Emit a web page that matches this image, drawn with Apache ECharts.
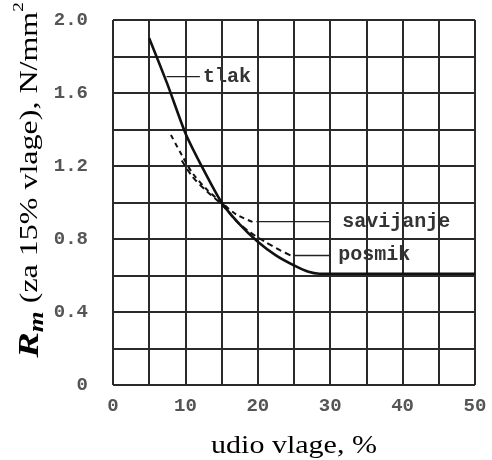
<!DOCTYPE html>
<html><head><meta charset="utf-8">
<script src="https://cdn.jsdelivr.net/npm/echarts@6/dist/echarts.min.js"></script>
<style>html,body{margin:0;padding:0;background:#fff}#c{width:492px;height:460px}</style>
</head><body><div id="c"></div>
<script>
// tick labels
const xLabels = ['0', '10', '20', '30', '40', '50'];
const yLabels = ['0', '0.4', '0.8', '1.2', '1.6', '2.0'];
// curves (x = udio vlage %, y = Rm)
const tlakX = [5, 7.5, 10, 12.5, 15, 17.5, 20, 22.5, 25, 27, 28.5, 35, 50];
const tlakY = [1.9, 1.65, 1.38, 1.18, 1.0, 0.88, 0.785, 0.71, 0.655, 0.62, 0.61, 0.61, 0.61];
const savijanjeX = [8, 9.5, 11, 13, 15, 17, 19.5];
const savijanjeY = [1.37, 1.26, 1.16, 1.07, 1.0, 0.935, 0.89];
const posmikX = [9.5, 11, 13, 15, 17, 19, 21, 23, 24.8];
const posmikY = [1.23, 1.14, 1.06, 0.99, 0.9, 0.835, 0.785, 0.74, 0.705];
// leader lines for the labels
const leadTlakX = [7.4, 12]; const leadTlakY = [1.69, 1.69];
const leadSavX = [19.8, 30]; const leadSavY = [0.895, 0.895];
const leadPosX = [24.9, 30]; const leadPosY = [0.71, 0.71];

const zip = (xs, ys) => xs.map((x, i) => [x, ys[i]]);
const chart = echarts.init(document.getElementById('c'));
const labelFont = { color: '#555', fontFamily: 'Liberation Mono', fontWeight: 'bold', fontSize: 19 };
const gridLine = { show: true, lineStyle: { color: '#2a2a2a', width: 2 } };
const leader = (name, xs, ys, dist) => ({
  type: 'line', name: name, data: zip(xs, ys), symbol: 'none', silent: true,
  lineStyle: { color: '#222', width: 1.4 },
  endLabel: { show: true, formatter: name, distance: dist, color: '#333',
    fontFamily: 'Liberation Mono', fontWeight: 'bold', fontSize: 20 }
});
chart.setOption({
  animation: false,
  grid: { left: 113, right: 17, top: 20, bottom: 75 },
  xAxis: {
    type: 'value', min: 0, max: 50, interval: 5,
    axisLine: { show: false }, axisTick: { show: false },
    splitLine: gridLine,
    axisLabel: Object.assign({ margin: 12, showMaxLabel: true,
      formatter: v => (v % 10 === 0 ? xLabels[v / 10] : '') }, labelFont)
  },
  yAxis: {
    type: 'value', min: 0, max: 2, interval: 0.2,
    axisLine: { show: false }, axisTick: { show: false },
    splitLine: gridLine,
    axisLabel: Object.assign({ margin: 25,
      formatter: v => { const k = Math.round(v * 10); return k % 4 === 0 ? yLabels[k / 4] : ''; } }, labelFont)
  },
  graphic: [
    { type: 'text', x: 30, y: 180, rotation: Math.PI / 2, scaleX: 1.28,
      style: {
        text: '{R|R}{m|m}{t| (za 15% vlage), N/mm}{s|2}',
        textAlign: 'center', textVerticalAlign: 'middle', fill: '#000',
        rich: {
          R: { fontFamily: 'Liberation Serif', fontSize: 30, fontWeight: 'bold', fontStyle: 'italic', fill: '#000', lineHeight: 36, verticalAlign: 'middle' },
          m: { fontFamily: 'Liberation Serif', fontSize: 21, fontWeight: 'bold', fontStyle: 'italic', fill: '#000', lineHeight: 36, verticalAlign: 'bottom' },
          t: { fontFamily: 'Liberation Serif', fontSize: 25, fill: '#000', lineHeight: 36, verticalAlign: 'middle' },
          s: { fontFamily: 'Liberation Serif', fontSize: 15, fill: '#000', lineHeight: 36, verticalAlign: 'top' }
        }
      } },
    { type: 'text', x: 294, y: 446, scaleX: 1.2,
      style: { text: 'udio vlage, %', textAlign: 'center', textVerticalAlign: 'middle',
        fill: '#000', font: '25px "Liberation Serif"' } }
  ],
  series: [
    { type: 'line', name: 'tlak', data: zip(tlakX, tlakY), symbol: 'none', smooth: 0.2,
      lineStyle: { color: '#111', width: 2.6 } },
    { type: 'line', name: 'savijanje', data: zip(savijanjeX, savijanjeY), symbol: 'none', smooth: 0.3,
      lineStyle: { color: '#111', width: 2, type: [5, 4] } },
    { type: 'line', name: 'posmik', data: zip(posmikX, posmikY), symbol: 'none', smooth: 0.3,
      lineStyle: { color: '#111', width: 2, type: [6, 4] } },
    leader('tlak', leadTlakX, leadTlakY, 3),
    leader('savijanje', leadSavX, leadSavY, 12),
    leader('posmik', leadPosX, leadPosY, 8)
  ]
});
</script></body></html>
